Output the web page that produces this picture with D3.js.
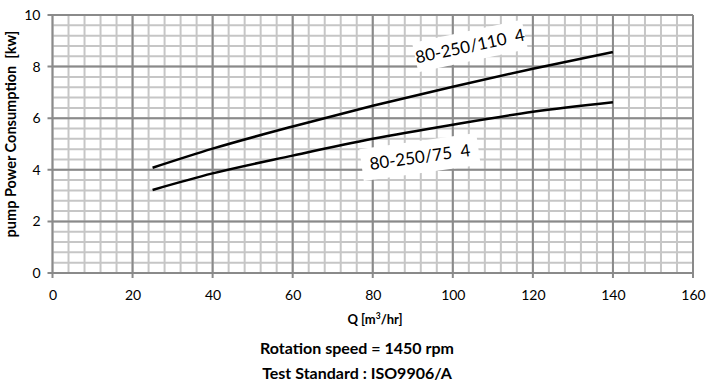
<!DOCTYPE html>
<html><head><meta charset="utf-8">
<script src="https://cdn.jsdelivr.net/npm/d3@7"></script>
<style>body{margin:0;background:#fff}svg{display:block}</style>
</head><body>
<svg id="c" width="715" height="388"></svg>
<script>
const flow = [25, 40, 60, 80, 100, 120, 140];
const power110 = [4.08, 4.82, 5.68, 6.48, 7.22, 7.92, 8.56];
const power75 = [3.22, 3.86, 4.55, 5.2, 5.75, 6.25, 6.62];
const xTicks = [0, 20, 40, 60, 80, 100, 120, 140, 160];
const yTicks = [0, 2, 4, 6, 8, 10];
const seriesNames = ["80-250/110  4", "80-250/75  4"];
const notes = ["Rotation speed = 1450 rpm", "Test Standard : ISO9906/A"];

const svg = d3.select("#c");
const L = 52.5, R = 693, T = 15, B = 273;
const x = d3.scaleLinear().domain([0, 160]).range([L, R]);
const y = d3.scaleLinear().domain([0, 10]).range([B, T]);
const font = "Lato, 'Open Sans', sans-serif";

// minor grid
const g = svg.append("g");
const minorX = d3.range(0, 160.01, 4);
const minorY = d3.range(0, 10.01, 0.4);
g.selectAll(".mx").data(minorX).enter().append("line")
  .attr("x1", d => x(d)).attr("x2", d => x(d)).attr("y1", T).attr("y2", B)
  .attr("stroke", "#c6c6c6").attr("stroke-width", 2);
g.selectAll(".my").data(minorY).enter().append("line")
  .attr("y1", d => y(d)).attr("y2", d => y(d)).attr("x1", L).attr("x2", R)
  .attr("stroke", "#c6c6c6").attr("stroke-width", 2);
// major grid
g.selectAll(".Mx").data(xTicks).enter().append("line")
  .attr("x1", d => x(d)).attr("x2", d => x(d)).attr("y1", T).attr("y2", B + 5)
  .attr("stroke", "#8a8a8a").attr("stroke-width", 2);
g.selectAll(".My").data(yTicks).enter().append("line")
  .attr("y1", d => y(d)).attr("y2", d => y(d)).attr("x1", L - 5).attr("x2", R)
  .attr("stroke", "#8a8a8a").attr("stroke-width", 2);

// axes labels via d3 axes (tick text only)
const xAxis = svg.append("g").attr("transform", `translate(0,${B})`)
  .call(d3.axisBottom(x).tickValues(xTicks).tickSize(0).tickPadding(17));
const yAxis = svg.append("g").attr("transform", `translate(${L},0)`)
  .call(d3.axisLeft(y).tickValues(yTicks).tickSize(0).tickPadding(12));
[xAxis, yAxis].forEach(a => {
  a.select(".domain").remove();
  a.selectAll("text").attr("font-family", font).attr("font-size", 14).attr("fill", "#000");
});

// curves
const line = d3.line().x(d => x(d[0])).y(d => y(d[1])).curve(d3.curveMonotoneX);
[power110, power75].forEach(vals => {
  svg.append("path").datum(flow.map((q, i) => [q, vals[i]]))
    .attr("d", line).attr("fill", "none").attr("stroke", "#000").attr("stroke-width", 2.5);
});

// curve labels with white boxes
function label(text, cx, cy, rot, w, h) {
  const gg = svg.append("g").attr("transform", `translate(${cx},${cy}) rotate(${rot})`);
  gg.append("rect").attr("x", -w / 2).attr("y", -h / 2).attr("width", w).attr("height", h).attr("fill", "#fff");
  gg.append("text").attr("text-anchor", "middle").attr("dy", "0.35em")
    .attr("font-family", font).attr("font-size", 17).attr("fill", "#000")
    .style("white-space", "pre").text(text);
}
label(seriesNames[0], 470, 46, -12, 112, 30);
label(seriesNames[1], 420, 157, -8, 118, 32);

// axis titles
svg.append("text").attr("transform", `translate(16,${(T + B) / 2 - 10}) rotate(-90)`)
  .attr("text-anchor", "middle").attr("font-family", font).attr("font-weight", "bold")
  .attr("font-size", 14.5).style("white-space", "pre").text("pump Power Consumption  [kw]");
const xt = svg.append("text").attr("x", 375).attr("y", 324).attr("text-anchor", "middle")
  .attr("font-family", font).attr("font-weight", "bold").attr("font-size", 13);
xt.append("tspan").text("Q [m");
xt.append("tspan").attr("font-size", 8.5).attr("dy", -5).text("3");
xt.append("tspan").attr("dy", 5).text("/hr]");

notes.forEach((t, i) => {
  svg.append("text").attr("x", 357).attr("y", 354 + i * 25).attr("text-anchor", "middle")
    .attr("font-family", font).attr("font-weight", "bold").attr("font-size", 16).text(t);
});
</script>
</body></html>
